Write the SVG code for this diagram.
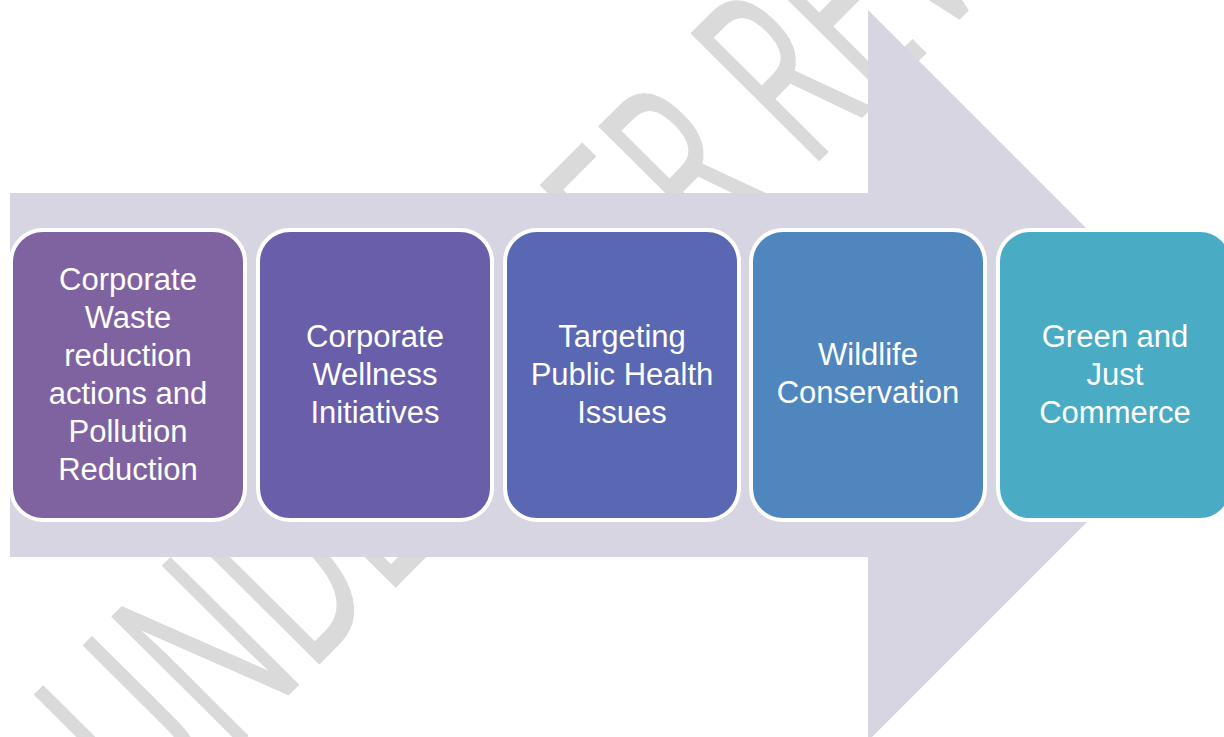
<svg xmlns="http://www.w3.org/2000/svg" width="1224" height="737" viewBox="0 0 1224 737">
  <style>
    .step { stroke: #ffffff; stroke-width: 4; }
    .label { font-family: "Liberation Sans", Arial, sans-serif; font-size: 31px; fill: #ffffff; text-anchor: middle; }
    .wm { font-family: "Open Sans", "Liberation Sans", sans-serif; font-size: 252px; fill: #dadada; stroke: #dadada; stroke-width: 1.5; stroke-linejoin: round; }
  </style>

  <rect width="1224" height="737" fill="#ffffff"/>

  <!-- background watermark, partly hidden by the arrow -->
  <g id="watermark" transform="translate(294 689) rotate(-45.2) scale(0.593 1)">
    <text class="wm" x="-338" y="0">UNDER PEER REVIEW</text>
  </g>

  <!-- background process arrow -->
  <g id="connectors">
    <polygon points="10,193 868,193 868,10 1233.5,375.5 868,741 868,557 10,557" fill="#d8d5e3"/>
  </g>

  <g id="step1">
    <rect class="step" x="11" y="230" width="234" height="290" rx="32" fill="#7f63a1"/>
    <text class="label" x="128" y="290">Corporate</text>
    <text class="label" x="128" y="328">Waste</text>
    <text class="label" x="128" y="366">reduction</text>
    <text class="label" x="128" y="404">actions and</text>
    <text class="label" x="128" y="442">Pollution</text>
    <text class="label" x="128" y="480">Reduction</text>
  </g>

  <g id="step2">
    <rect class="step" x="258" y="230" width="234" height="290" rx="32" fill="#695ea9"/>
    <text class="label" x="375" y="347">Corporate</text>
    <text class="label" x="375" y="385">Wellness</text>
    <text class="label" x="375" y="423">Initiatives</text>
  </g>

  <g id="step3">
    <rect class="step" x="505" y="230" width="234" height="290" rx="32" fill="#5a67b2"/>
    <text class="label" x="622" y="347">Targeting</text>
    <text class="label" x="622" y="385">Public Health</text>
    <text class="label" x="622" y="423">Issues</text>
  </g>

  <g id="step4">
    <rect class="step" x="751" y="230" width="234" height="290" rx="32" fill="#4f86bd"/>
    <text class="label" x="868" y="365">Wildlife</text>
    <text class="label" x="868" y="403">Conservation</text>
  </g>

  <g id="step5">
    <rect class="step" x="998" y="230" width="234" height="290" rx="32" fill="#4aabc5"/>
    <text class="label" x="1115" y="347">Green and</text>
    <text class="label" x="1115" y="385">Just</text>
    <text class="label" x="1115" y="423">Commerce</text>
  </g>
</svg>
